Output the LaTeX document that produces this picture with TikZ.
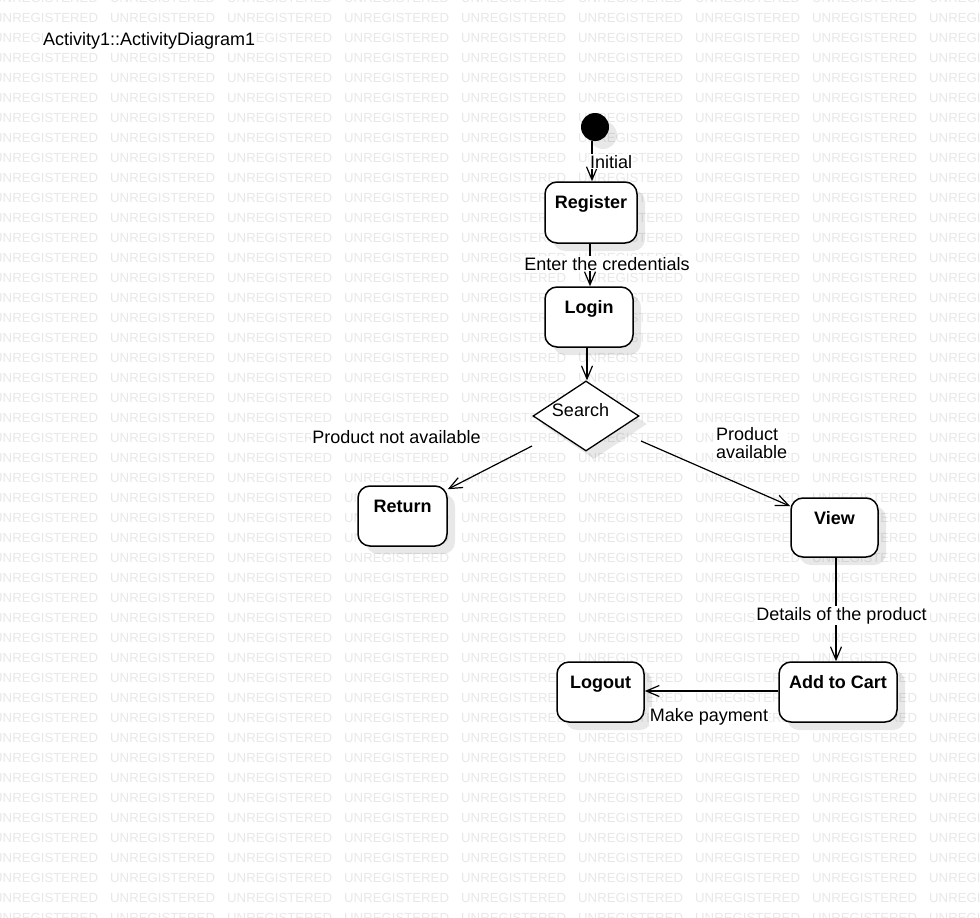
\documentclass[tikz,border=0pt]{standalone}
\usepackage{fontspec}
\setmainfont{Liberation Sans}
\usetikzlibrary{arrows.meta,shapes.geometric,shadows}
\begin{document}
\begin{tikzpicture}[x=1pt,y=-1pt,
  wm/.style={text=black!9, font=\fontsize{13.2}{14}\selectfont, anchor=base west, inner sep=0pt},
  shade/.style={drop shadow={shadow xshift=8pt, shadow yshift=-8pt, fill=black, opacity=0.09}},
  act/.style={draw, line width=1.5pt, rounded corners=12pt, fill=white, shade,
    label={[font=\bfseries\fontsize{18}{18}\selectfont, anchor=base, yshift=-27.5pt]north:#1}},
  flow/.style={line width=1.2pt, -{Straight Barb[length=13pt,width=11pt,line width=1.2pt]}},
  lbl/.style={fill=white, inner sep=1pt, font=\fontsize{18}{18}\selectfont, anchor=base}]

% page
\useasboundingbox (0,0) rectangle (980,918);
\fill[white] (0,0) rectangle (980,918);
\clip (0,0) rectangle (980,918);

% evaluation watermark
\foreach \r in {-1,...,45}
  \foreach \c in {0,...,8}
    \node[wm] (wm-\r-\c) at ({-7+117*\c},{22.7+20*\r}) {UNREGISTERED};

% title
\node[lbl, anchor=base west, inner sep=0pt] (title) at (43,45) {Activity1::ActivityDiagram1};

% activity nodes
\node[circle, fill=black, minimum size=28pt, inner sep=0pt, shade] (init) at (595,127) {};
\node[act=Register, minimum width=92pt, minimum height=61pt] (register) at (591,212.5) {};
\node[act=Login, minimum width=88pt, minimum height=60pt] (login) at (589,317) {};
\node[diamond, draw, line width=1.3pt, fill=white, minimum width=106pt, minimum height=70pt,
  inner sep=0pt, shade,
  label={[font=\fontsize{18}{18}\selectfont, anchor=base, xshift=-5.5pt, yshift=-36pt]north:Search}]
  (search) at (586,416) {};
\node[act=Return, minimum width=89pt, minimum height=60pt] (return) at (402.5,516) {};
\node[act=View, minimum width=87pt, minimum height=59pt] (view) at (834.5,527.5) {};
\node[act=Add to Cart, minimum width=118pt, minimum height=60pt] (cart) at (838,692) {};
\node[act=Logout, minimum width=87pt, minimum height=60pt] (logout) at (600.5,692) {};

% control flows
\coordinate (sL) at ([shift={(-54pt,-30pt)}]search.center);
\coordinate (sR) at ([shift={(55pt,-25pt)}]search.center);
\draw[flow] ([xshift=-3pt]init.south) -- ([xshift=1pt]register.north);
\draw[flow] ([xshift=-1pt]register.south) -- ([xshift=1pt]login.north);
\draw[flow] ([xshift=-2pt]login.south) -- ([xshift=1pt]search.north);
\draw[flow] (sL) -- ([yshift=-4pt]return.north east);
\draw[flow] (sR) -- ([yshift=-9pt]view.north west);
\draw[flow] ([xshift=1.5pt]view.south) -- ([xshift=-2pt]cart.north);
\draw[flow] ([yshift=1pt]cart.west) -- ([yshift=1pt]logout.east);

% flow labels
\node[lbl, anchor=base west] (l-init) at (589,168) {Initial};
\node[lbl] (l-cred) at (607,270) {Enter the credentials};
\node[lbl] (l-not) at (396.5,443) {Product not available};
\node[lbl, anchor=north west, align=left] (l-avail) at (715,426) {Product\\available};
\node[lbl] (l-det) at (841.5,620) {Details of the product};
\node[lbl] (l-pay) at (709,721) {Make payment};
\end{tikzpicture}
\end{document}
